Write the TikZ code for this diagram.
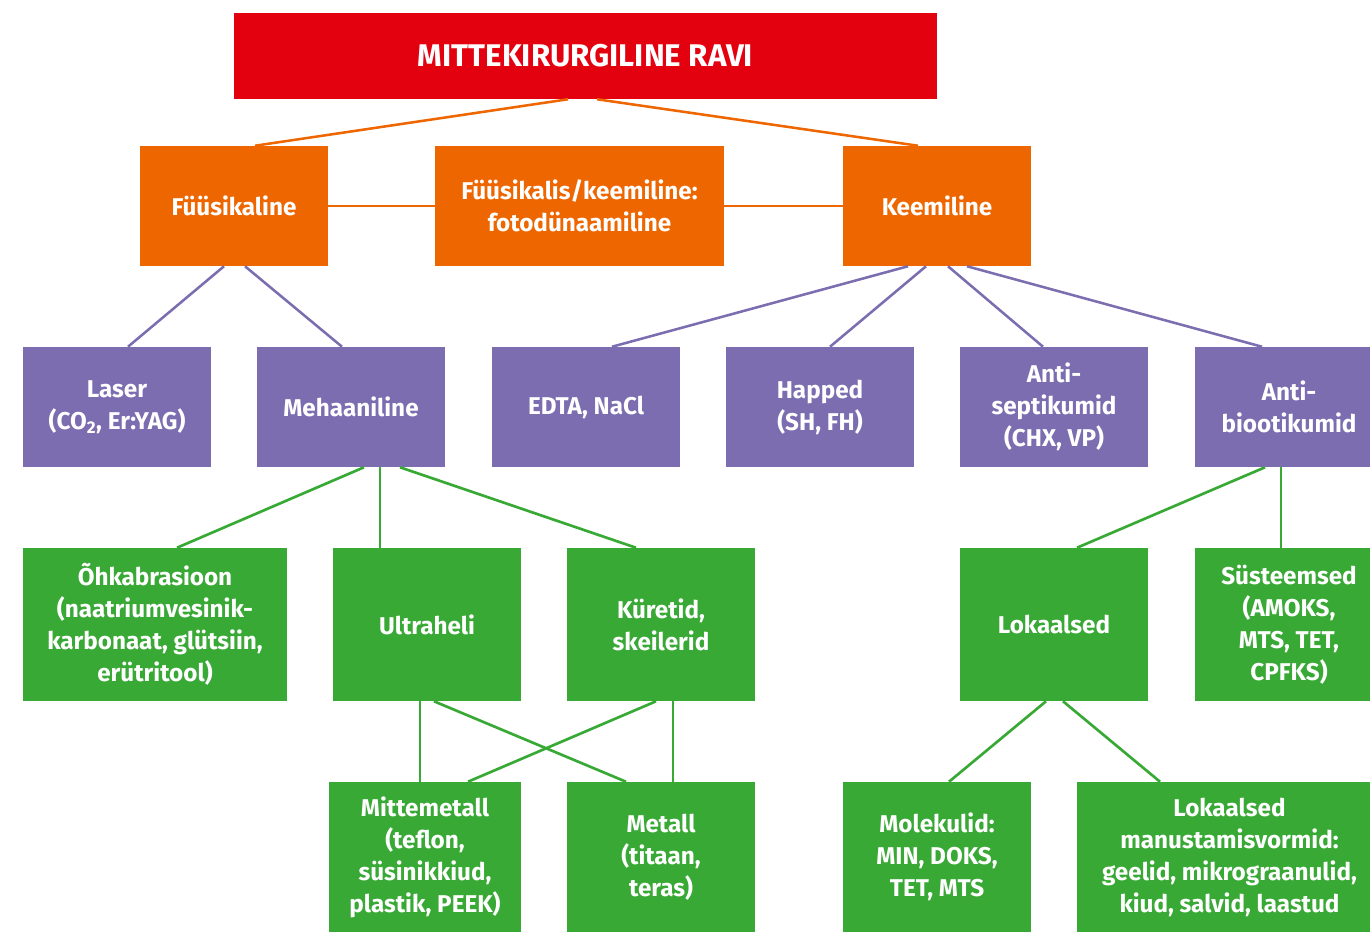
\documentclass[tikz,border=0pt]{standalone}
\usepackage{fontspec}
\setmainfont{Fira Sans}
\usetikzlibrary{calc,positioning}
\definecolor{ravipunane}{HTML}{E3000F}
\definecolor{ravioranz}{HTML}{EE6600}
\definecolor{ravililla}{HTML}{7B6DB0}
\definecolor{ravirohe}{HTML}{38A935}

\begin{document}
\begin{tikzpicture}[x=0.75pt, y=-0.75pt,
	every node/.style={rectangle, text=white, align=center, inner sep=0pt, minimum width=141pt, minimum height=90pt, font=\bfseries\fontsize{18.2}{24}\selectfont},
	pealkiri/.style={fill=ravipunane, minimum width=527.25pt, minimum height=64.5pt, font=\bfseries\fontsize{23.5}{28}\selectfont},
	oranzkast/.style={fill=ravioranz},
	lillakast/.style={fill=ravililla},
	rohekast/.style={fill=ravirohe, minimum height=114.75pt},
	alumine/.style={fill=ravirohe, minimum height=112.5pt},
	oranzjoon/.style={draw=ravioranz, line width=1.9pt},
	lillajoon/.style={draw=ravililla, line width=1.9pt},
	rohejoon/.style={draw=ravirohe, line width=2pt}]
		\useasboundingbox (0,0) rectangle (1370,932);
		
		\node[pealkiri] (ravi) at (585.5,56) {MITTEKIRURGILINE RAVI};
		
		\node[oranzkast] (fyys) at (234,206) {Füüsikaline};
		\node[oranzkast, minimum width=216.75pt] (foto) at (579.5,206) {Füüsikalis/keemiline:\\fotodünaamiline};
		\node[oranzkast] (keem) at (937,206) {Keemiline};
		
		\node[lillakast] (laser) at (117,407) {Laser\\(CO\textsubscript{2}, Er:YAG)};
		\node[lillakast] (mehaan) at (351,407) {Mehaaniline};
		\node[lillakast] (edta) at (586,407) {EDTA, NaCl};
		\node[lillakast] (happed) at (820,407) {Happed\\(SH, FH)};
		\node[lillakast] (antisept) at (1054,407) {Anti-\\septikumid\\(CHX, VP)};
		\node[lillakast] (antibiot) at (1289,407) {Anti-\\biootikumid};
		
		\node[rohekast, minimum width=198pt] (ohk) at (155,624.5) {Õhkabrasioon\\(naatriumvesinik-\\karbonaat, glütsiin,\\erütritool)};
		\node[rohekast] (ultra) at (427,624.5) {Ultraheli};
		\node[rohekast] (kuret) at (661,624.5) {Küretid,\\skeilerid};
		\node[rohekast] (lokaal) at (1054,624.5) {Lokaalsed};
		\node[rohekast] (syst) at (1289,624.5) {Süsteemsed\\(AMOKS,\\MTS, TET,\\CPFKS)};
		
		\node[alumine, minimum width=144pt] (mittemet) at (425,857) {Mittemetall\\(teflon,\\süsinikkiud,\\plastik, PEEK)};
		\node[alumine] (metall) at (661,857) {Metall\\(titaan,\\teras)};
		\node[alumine] (molek) at (937,857) {Molekulid:\\MIN, DOKS,\\TET, MTS};
		\node[alumine, minimum width=228.75pt] (lmv) at (1229.5,857) {Lokaalsed\\manustamisvormid:\\geelid, mikrograanulid,\\kiud, salvid, laastud};
		
		% oranzid jooned
		\draw[oranzjoon] ($(ravi.south)+(-17.5,0)$) -- ($(fyys.north)+(21,0)$);
		\draw[oranzjoon] ($(ravi.south)+(11.5,0)$) -- ($(keem.north)+(-19,0)$);
		\draw[oranzjoon] (fyys.east) -- (foto.west);
		\draw[oranzjoon] (foto.east) -- (keem.west);
		
		% lillad jooned
		\draw[lillajoon] ($(fyys.south)+(-10,0)$) -- ($(laser.north)+(11,0)$);
		\draw[lillajoon] ($(fyys.south)+(11,0)$) -- ($(mehaan.north)+(-9,0)$);
		\draw[lillajoon] ($(keem.south)+(-29,0)$) -- ($(edta.north)+(26,0)$);
		\draw[lillajoon] ($(keem.south)+(-11,0)$) -- ($(happed.north)+(10,0)$);
		\draw[lillajoon] ($(keem.south)+(11,0)$) -- ($(antisept.north)+(-11,0)$);
		\draw[lillajoon] ($(keem.south)+(30,0)$) -- ($(antibiot.north)+(-27,0)$);
		
		% rohelised jooned
		\draw[rohejoon] ($(mehaan.south)+(13,0)$) -- ($(ohk.north)+(22,0)$);
		\draw[rohejoon] ($(mehaan.south)+(29,0)$) -- ($(ultra.north)+(-47,0)$);
		\draw[rohejoon] ($(mehaan.south)+(49,0)$) -- ($(kuret.north)+(-25,0)$);
		\draw[rohejoon] ($(antibiot.south)+(-24,0)$) -- ($(lokaal.north)+(23,0)$);
		\draw[rohejoon] ($(antibiot.south)+(-8,0)$) -- ($(syst.north)+(-8,0)$);
		\draw[rohejoon] ($(ultra.south)+(-7,0)$) -- ($(mittemet.north)+(-5,0)$);
		\draw[rohejoon] ($(ultra.south)+(7,0)$) -- ($(metall.north)+(-35,0)$);
		\draw[rohejoon] ($(kuret.south)+(-5,0)$) -- ($(mittemet.north)+(43,0)$);
		\draw[rohejoon] ($(kuret.south)+(12,0)$) -- ($(metall.north)+(12,0)$);
		\draw[rohejoon] ($(lokaal.south)+(-8,0)$) -- ($(molek.north)+(12,0)$);
		\draw[rohejoon] ($(lokaal.south)+(9,0)$) -- ($(lmv.north)+(-69.5,0)$);
\end{tikzpicture}
\end{document}
